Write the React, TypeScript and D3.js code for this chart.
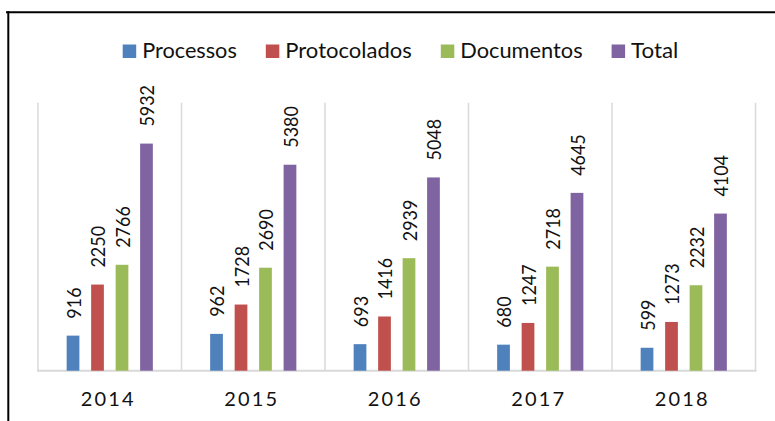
import React from "react";
import * as d3 from "d3";

const years = ["2014", "2015", "2016", "2017", "2018"];
const seriesNames = ["Processos", "Protocolados", "Documentos", "Total"];
const processos = [916, 962, 693, 680, 599];
const protocolados = [2250, 1728, 1416, 1247, 1273];
const documentos = [2766, 2690, 2939, 2718, 2232];
const total = [5932, 5380, 5048, 4645, 4104];
const colors = ["#4f81bd", "#c0504d", "#9bbb59", "#8064a2"];
const legendWidths = [94.6, 126.5, 122.3, 47.3];

const W = 775;
const H = 421;
const plot = { left: 38, right: 755.5, top: 102.7, bottom: 370.7 };
const FONT = "Lato, 'Open Sans', sans-serif";

export default function App() {
  const values = [processos, protocolados, documentos, total];
  const x0 = d3.scaleBand<string>().domain(years).range([plot.left, plot.right]).padding(0);
  const x1 = d3
    .scaleBand<string>()
    .domain(seriesNames)
    .range([0, x0.bandwidth()])
    .paddingInner(0.48)
    .paddingOuter(1.17);
  const y = d3.scaleLinear().domain([0, 7000]).range([plot.bottom, plot.top]);

  const boundaries = years.map((yr) => x0(yr) as number).concat([plot.right]);

  const legendItems: { sx: number; tx: number; w: number }[] = [];
  let cx = 122.7;
  legendWidths.forEach((w) => {
    legendItems.push({ sx: cx, tx: cx + 19.5, w });
    cx = cx + 19.5 + w + 29;
  });

  return (
    <svg
      width={W}
      height={H}
      style={{ position: "absolute", left: 0, top: 0, background: "#fff" }}
      fontFamily={FONT}
    >
      <rect x={0} y={0} width={W} height={H} fill="#fff" />
      <line x1={6} y1={12.3} x2={W} y2={12.3} stroke="#000" strokeWidth={2} />
      <line x1={8.3} y1={11.3} x2={8.3} y2={H} stroke="#000" strokeWidth={2} />

      {seriesNames.map((s, i) => (
        <g key={s}>
          <rect x={legendItems[i].sx} y={44.5} width={13.5} height={13.5} fill={colors[i]} />
          <text
            x={legendItems[i].tx}
            y={58}
            fontSize={20.5}
            fill="#111"
            textLength={legendItems[i].w}
            lengthAdjust="spacingAndGlyphs"
          >
            {s}
          </text>
        </g>
      ))}

      {boundaries.map((b, i) => (
        <line key={i} x1={b} y1={plot.top} x2={b} y2={plot.bottom} stroke="#d9d9d9" strokeWidth={1.5} />
      ))}
      <line x1={plot.left - 1} y1={plot.bottom} x2={plot.right + 1} y2={plot.bottom} stroke="#d9d9d9" strokeWidth={2} />

      {years.map((yr, yi) => (
        <g key={yr}>
          {seriesNames.map((s, si) => {
            const v = values[si][yi];
            const bx = (x0(yr) as number) + (x1(s) as number);
            const bw = x1.bandwidth();
            const top = y(v);
            const lx = bx + bw / 2 + 7.8;
            const ly = top - 17;
            const txt = String(v);
            return (
              <g key={s}>
                <rect x={bx} y={top} width={bw} height={plot.bottom - top} fill={colors[si]} />
                <text
                  x={0}
                  y={0}
                  transform={`translate(${lx},${ly}) rotate(-90)`}
                  fontSize={19.5}
                  fill="#111"
                  textLength={txt.length * 10.4}
                  lengthAdjust="spacingAndGlyphs"
                >
                  {txt}
                </text>
              </g>
            );
          })}
          <text
            x={(x0(yr) as number) + x0.bandwidth() / 2 - 1.5}
            y={406}
            fontSize={20}
            textAnchor="middle"
            letterSpacing={2.2}
            fill="#111"
          >
            {yr}
          </text>
        </g>
      ))}
    </svg>
  );
}
